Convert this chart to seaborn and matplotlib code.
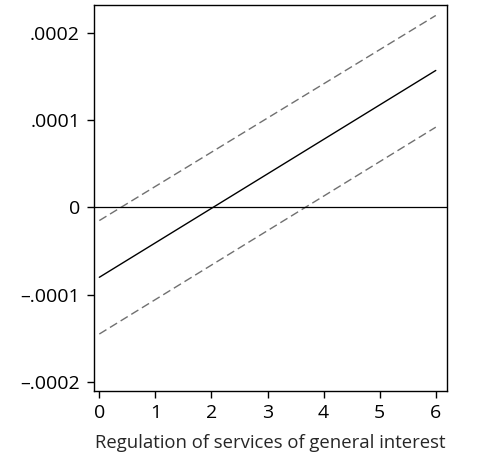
import numpy as np
import pandas as pd
import seaborn as sns
import matplotlib.pyplot as plt

# marginal effect and 95% bounds
reg = [0, 6]
effect = [-0.00008, 0.000157]
upper = [-0.000015, 0.00022]
lower = [-0.000145, 0.000092]

yticks = [-0.0002, -0.0001, 0, 0.0001, 0.0002]
ylabels = ["\u2013.0002", "\u2013.0001", "0", ".0001", ".0002"]

df = pd.DataFrame({"reg": reg, "effect": effect, "upper": upper, "lower": lower})

sns.set_style("ticks")
plt.rcParams["font.family"] = ["Open Sans", "DejaVu Sans"]

fig = plt.figure(figsize=(4.83, 4.59), dpi=100)
ax = fig.add_axes([94 / 483, 68 / 459, 353 / 483, 386 / 459])

sns.lineplot(data=df, x="reg", y="effect", color="black", lw=1.0, ax=ax)
sns.lineplot(data=df, x="reg", y="upper", color="#707070", lw=1.0, ls=(0, (6, 3)), ax=ax)
sns.lineplot(data=df, x="reg", y="lower", color="#707070", lw=1.0, ls=(0, (6, 3)), ax=ax)
ax.axhline(0, color="black", lw=0.9)

ax.set_xlim(-0.095, 6.2)
ax.set_ylim(-0.0002103, 0.000232)
ax.set_xticks(range(7))
ax.set_yticks(yticks)
ax.set_yticklabels(ylabels)
for s in ax.spines.values():
    s.set_visible(True)
    s.set_color("black")
    s.set_linewidth(1.0)
ax.tick_params(axis="both", direction="out", length=5, width=1.0, labelsize=14, colors="black")
ax.tick_params(axis="y", pad=5)
ax.tick_params(axis="x", pad=4.5)
ax.set_xlabel("Regulation of services of general interest", fontsize=13.3, labelpad=8.5)
ax.set_ylabel("")

fig.savefig("out.png", dpi=100)
